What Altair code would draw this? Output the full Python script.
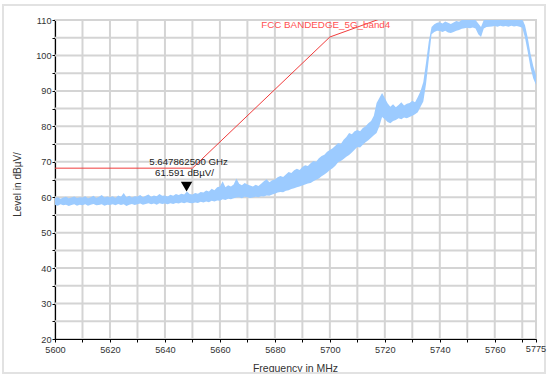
import altair as alt
import pandas as pd

# Spectrum trace: upper and lower envelope of the measured level per MHz
freq_mhz = list(range(5600, 5776))

level_hi = [
    59.8, 60.0, 59.6, 59.9, 60.1, 59.7, 59.9, 60.2, 59.8, 60.0,
    59.9, 60.3, 59.7, 60.0, 60.4, 59.8, 60.1, 60.6, 59.9, 60.2,
    60.0, 60.3, 59.8, 60.5, 60.1, 61.2, 60.0, 60.4, 59.9, 60.3,
    60.2, 60.6, 60.0, 60.4, 60.8, 60.1, 60.5, 60.3, 60.9, 60.4,
    60.5, 60.2, 60.7, 60.4, 60.9, 60.6, 61.0, 60.8, 61.6, 60.9,
    60.8, 61.2, 61.0, 61.5, 61.3, 61.9, 61.6, 62.4, 62.0, 62.8,
    63.0, 64.5, 62.8, 63.4, 63.0, 63.6, 65.3, 63.8, 63.4, 64.0,
    63.6, 63.3, 63.0, 63.5, 63.2, 63.8, 64.5, 65.1, 64.2, 64.8,
    65.0, 65.6, 66.0, 65.7, 66.4, 67.1, 66.8, 67.6, 68.0, 67.7,
    68.5, 69.0, 68.8, 69.6, 70.2, 70.0, 71.0, 71.6, 72.0, 72.8,
    73.3, 73.8, 74.5, 75.3, 75.0, 76.2, 77.0, 78.1, 77.8, 78.6,
    79.0, 78.6, 79.5, 80.0, 80.9, 81.5, 83.0, 86.6, 88.0, 89.4,
    88.0, 86.5, 85.5, 86.2, 85.4, 86.0, 86.8, 85.9, 86.4, 86.6,
    87.2, 86.8, 88.3, 90.0, 92.5, 98.0, 104.0, 108.0, 108.8, 109.2,
    109.4, 109.0, 109.6, 109.2, 108.9, 109.3, 109.7, 109.5, 110.0, 110.0,
    110.2, 110.0, 110.3, 110.0, 109.0, 108.0, 110.0, 110.3, 110.2, 110.4,
    110.3, 110.3, 110.3, 110.3, 110.3, 110.3, 110.3, 110.3, 110.3, 110.3,
    110.2, 108.5, 105.0, 100.5, 97.0, 94.5,
]

level_lo = [
    57.8, 57.6, 58.0, 57.7, 57.9, 57.5, 57.8, 58.0, 57.6, 57.9,
    57.7, 58.0, 57.6, 57.9, 58.1, 57.7, 57.8, 58.0, 57.6, 57.9,
    57.8, 58.0, 57.7, 58.1, 57.8, 58.0, 57.5, 57.9, 58.1, 57.8,
    58.0, 58.2, 57.9, 58.1, 58.3, 58.0, 58.2, 57.9, 58.3, 58.1,
    58.2, 58.0, 58.3, 58.1, 58.4, 58.2, 58.5, 58.3, 58.6, 58.4,
    58.3, 58.5, 58.4, 58.7, 58.5, 58.8, 58.6, 59.0, 58.8, 59.1,
    59.0, 59.4, 59.2, 59.6, 59.4, 59.7, 59.9, 60.0, 59.7, 60.1,
    60.0, 59.8, 59.9, 60.1, 60.0, 60.3, 60.2, 60.5, 60.4, 60.8,
    61.0, 61.3, 61.5, 61.4, 61.8, 62.0, 62.3, 62.5, 62.8, 63.0,
    63.3, 63.6, 63.9, 64.0, 64.5, 64.9, 65.3, 65.9, 66.4, 67.0,
    67.7, 68.2, 68.9, 69.9, 70.2, 70.8, 71.4, 71.9, 72.6, 73.4,
    74.2, 74.0, 74.8, 75.5, 76.1, 76.8, 77.5, 78.1, 80.0, 82.6,
    82.0, 81.2, 80.9, 81.5, 81.8, 82.3, 82.0, 82.5, 82.3, 82.6,
    83.0, 83.4, 84.0, 85.5, 87.0, 92.0, 99.0, 106.0, 106.6, 107.0,
    106.9, 106.6, 107.0, 106.5, 106.3, 106.6, 107.0, 107.2, 107.5, 107.7,
    107.8, 107.7, 107.9, 107.6, 106.0, 105.2, 107.6, 108.0, 108.1, 108.2,
    108.3, 108.1, 108.4, 108.2, 108.3, 108.1, 108.4, 108.2, 108.3, 108.1,
    107.8, 105.0, 101.0, 96.5, 93.5, 91.7,
]

# FCC band-edge limit line
limit_freq = [5600, 5650, 5700, 5720, 5725]
limit_level = [68.2, 68.2, 105.2, 110.8, 122.2]
limit_name = "FCC BANDEDGE_5G_band4"
limit_label_freq = 5698.5
limit_label_level = 108.6

# Marker
marker_freq = 5647.8625
marker_level = 61.591
marker_text_freq = "5.647862500 GHz"
marker_text_level = "61.591 dBµV/"

# Axis ticks / grid positions
x_ticks = list(range(5600, 5771, 10)) + [5775]
x_end_label = [5775]
y_ticks = list(range(20, 111, 5))

FONT = "Liberation Sans"
BLUE = "#9ccbff"
RED = "#f03c3c"
GRID = "#d4d4d4"
LABEL = "#333333"

# one table per layer, all sharing the column names "f" and "lvl"
trace = pd.DataFrame({"f": freq_mhz, "lvl": level_lo, "hi": level_hi})
limit = pd.DataFrame({"f": limit_freq, "lvl": limit_level})
marker = pd.DataFrame({"f": [marker_freq], "lvl": [marker_level]})
limit_lbl = pd.DataFrame({"f": [limit_label_freq], "lvl": [limit_label_level], "t": [limit_name]})
grid_x = pd.DataFrame({"f": [v for v in x_ticks if v != 5600]})
grid_y = pd.DataFrame({"lvl": [v for v in y_ticks if v != 20]})
end_lbl = pd.DataFrame({"f": x_end_label, "t": [str(v) for v in x_end_label]})

x_scale = alt.Scale(domain=[5600, 5775], nice=False, zero=False)
y_scale = alt.Scale(domain=[20, 110], nice=False, zero=False)

x_axis = alt.Axis(
    values=x_ticks, format="d", title="Frequency in MHz", grid=False,
    labelExpr="datum.value % 20 == 0 ? datum.label : ''",
    labelFlush=False, labelOverlap=False, labelAlign="center", labelFont=FONT, labelFontSize=9.2,
    labelColor=LABEL, labelPadding=3, tickSize=3, tickColor="#000000",
    domainColor="#000000", domainWidth=1.2,
    titleFont=FONT, titleFontSize=10.5, titleFontWeight="normal", titleColor=LABEL,
    titleX=240, titleY=29, titleBaseline="middle", titleAlign="center",
)
y_axis = alt.Axis(
    values=y_ticks, title="Level in dBµV/", grid=False,
    labelExpr="datum.value % 10 == 0 ? datum.label : ''",
    labelOverlap=False, labelFont=FONT, labelFontSize=9.2,
    labelColor=LABEL, labelPadding=1, tickSize=3, tickColor="#000000",
    domainColor="#000000", domainWidth=1.2,
    titleFont=FONT, titleFontSize=10, titleFontWeight="normal", titleColor=LABEL,
    titleX=-38, titleY=164, titleAngle=270, titleBaseline="middle", titleAlign="center",
)

X = alt.X("f:Q", scale=x_scale, axis=x_axis)
Y = alt.Y("lvl:Q", scale=y_scale, axis=y_axis)

# grid drawn as rules so they sit under the trace
vgrid = alt.Chart(grid_x).mark_rule(color=GRID, strokeWidth=2, opacity=1).encode(
    x=X, y=alt.value(0), y2=alt.value(319)
)
hgrid = alt.Chart(grid_y).mark_rule(color=GRID, strokeWidth=2, opacity=1).encode(
    y=Y, x=alt.value(0), x2=alt.value(481)
)

# label of the span end, centred under its tick
end_text = alt.Chart(end_lbl).mark_text(
    font=FONT, fontSize=9.2, color=LABEL, align="center", baseline="top"
).encode(x=X, y=alt.value(325), text="t:N")

band = alt.Chart(trace).mark_area(color=BLUE, clip=True, opacity=1).encode(
    x=X, y=Y, y2="hi:Q",
)

limit_line = alt.Chart(limit).mark_line(color=RED, strokeWidth=1, clip=True).encode(x=X, y=Y)

limit_text = alt.Chart(limit_lbl).mark_text(
    font=FONT, fontSize=9.8, color="#ff5050", align="center", baseline="middle"
).encode(x=X, y=Y, text="t:N")

marker_pt = alt.Chart(marker).mark_point(
    shape="triangle-down", filled=True, color="#000000", size=130, opacity=1, yOffset=-5
).encode(x=X, y=Y)

marker_t1 = alt.Chart(marker).mark_text(
    font=FONT, fontSize=9.7, color="#222222", align="center", baseline="middle", dx=2, dy=-30
).encode(x=X, y=Y, text=alt.value(marker_text_freq))

marker_t2 = alt.Chart(marker).mark_text(
    font=FONT, fontSize=9.7, color="#222222", align="center", baseline="middle", dx=-2, dy=-19
).encode(x=X, y=Y, text=alt.value(marker_text_level))

frame = alt.Chart(pd.DataFrame({"k": [0]})).mark_rect(
    fillOpacity=0, stroke="#e2e2e2", strokeWidth=2
).encode(x=alt.value(-52), x2=alt.value(490), y=alt.value(-15), y2=alt.value(353))

chart = alt.layer(
    vgrid, hgrid, frame, band, limit_line, limit_text,
    marker_pt, marker_t1, marker_t2, end_text
).properties(
    width=481, height=319,
    autosize=alt.AutoSizeParams(type="none"),
    padding={"left": 55, "top": 20, "right": 14, "bottom": 37},
    background="#ffffff",
).configure_view(stroke=GRID, strokeWidth=2)

chart.save("out.html", embed_options={"renderer": "svg", "actions": False})
